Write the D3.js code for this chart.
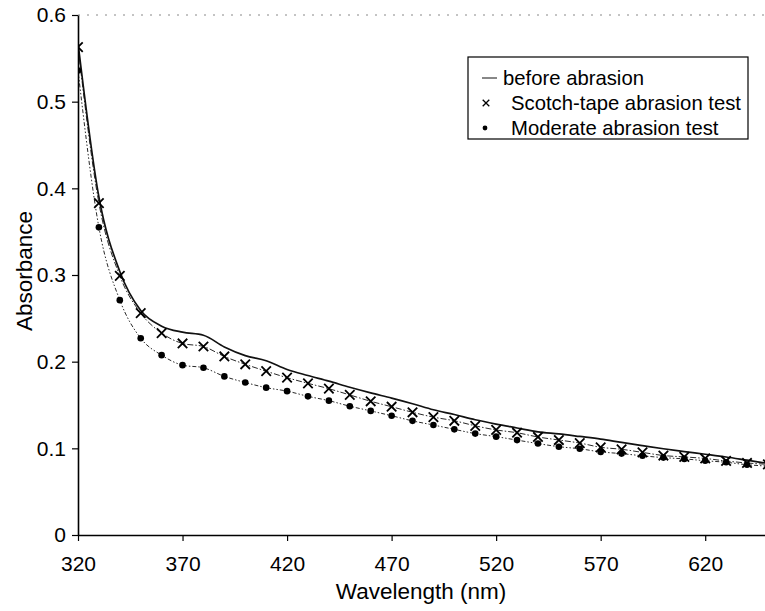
<!DOCTYPE html>
<html>
<head>
<meta charset="utf-8">
<script src="https://cdn.jsdelivr.net/npm/d3@7"></script>
<style>
  body { margin: 0; background: #fff; }
  text { font-family: "Liberation Sans", Arial, sans-serif; fill: #000; }
</style>
</head>
<body>
<div id="chart"></div>
<script>
// Absorbance spectra, one point every 10 nm
const wavelengths = [320, 330, 340, 350, 360, 370, 380, 390, 400, 410, 420, 430, 440, 450, 460, 470, 480,
    490, 500, 510, 520, 530, 540, 550, 560, 570, 580, 590, 600, 610, 620, 630, 640, 650];
const beforeAbrasion = [0.568, 0.390, 0.304, 0.259, 0.241, 0.234, 0.2305, 0.217, 0.207, 0.201, 0.191, 0.184,
    0.1775, 0.1705, 0.164, 0.158, 0.1515, 0.1445, 0.139, 0.133, 0.128, 0.1235, 0.119, 0.1166, 0.1137, 0.1107,
    0.1068, 0.1031, 0.0995, 0.0963, 0.0932, 0.090, 0.0863, 0.0826];
const scotchTape = [0.563, 0.383, 0.299, 0.256, 0.233, 0.221, 0.2175, 0.206, 0.197, 0.189, 0.1815, 0.175,
    0.1688, 0.1616, 0.1543, 0.148, 0.1416, 0.136, 0.1318, 0.126, 0.1212, 0.118, 0.1131, 0.1096, 0.1061, 0.1012,
    0.0989, 0.0953, 0.0917, 0.0901, 0.0883, 0.0854, 0.0831, 0.0815];
const moderate = [0.536, 0.355, 0.271, 0.227, 0.2075, 0.196, 0.193, 0.183, 0.176, 0.170, 0.166, 0.160,
    0.155, 0.1486, 0.1432, 0.1376, 0.1317, 0.1269, 0.1219, 0.117, 0.1135, 0.1095, 0.1055, 0.1019, 0.0995, 0.0959,
    0.0939, 0.0914, 0.0893, 0.0878, 0.0857, 0.0839, 0.0811, 0.0795];
const xTicks = [320, 370, 420, 470, 520, 570, 620];
const yTicks = [0, 0.1, 0.2, 0.3, 0.4, 0.5, 0.6];
const seriesNames = ["before abrasion", "Scotch-tape abrasion test", "Moderate abrasion test"];

const width = 765, height = 611;
const plot = { left: 78, top: 15, right: 765, bottom: 535 };

const svg = d3.select("#chart").append("svg")
    .attr("width", width)
    .attr("height", height);

// the scan cuts the plot off at the right edge, a little short of 650 nm
const x = d3.scaleLinear().domain([320, 648.6]).range([plot.left, plot.right]);
const y = d3.scaleLinear().domain([0, 0.6]).range([plot.bottom, plot.top]);

svg.append("clipPath").attr("id", "clip")
    .append("rect")
    .attr("x", plot.left).attr("y", 0)
    .attr("width", plot.right - plot.left).attr("height", height);

// faint dotted top edge of the plot area
svg.append("line")
    .attr("x1", plot.left).attr("x2", plot.right)
    .attr("y1", y(0.6)).attr("y2", y(0.6))
    .attr("stroke", "#888")
    .attr("stroke-width", 1)
    .attr("stroke-dasharray", "2,7");

const series = [
    { name: seriesNames[0], values: beforeAbrasion, dash: null, width: 1.7, marker: null },
    { name: seriesNames[1], values: scotchTape, dash: "6,2,1.5,2", width: 0.9, marker: "cross" },
    { name: seriesNames[2], values: moderate, dash: "4,2,1.5,2,1.5,2", width: 0.9, marker: "dot" }
];

const line = d3.line()
    .x((d, i) => x(wavelengths[i]))
    .y(d => y(d))
    .curve(d3.curveMonotoneX);

const g = svg.append("g").attr("clip-path", "url(#clip)");

series.forEach(s => {
    g.append("path")
        .datum(s.values)
        .attr("fill", "none")
        .attr("stroke", "#111")
        .attr("stroke-width", s.width)
        .attr("stroke-dasharray", s.dash)
        .attr("d", line);
});

const cross = d3.symbol().type(d3.symbolX).size(60);

// markers
series.forEach(s => {
    if (!s.marker) return;
    const pts = g.selectAll(null)
        .data(s.values)
        .enter();
    if (s.marker === "cross") {
        pts.append("path")
            .attr("d", cross)
            .attr("transform", (d, i) => `translate(${x(wavelengths[i])},${y(d)})`)
            .attr("fill", "none")
            .attr("stroke", "#000")
            .attr("stroke-width", 1.8);
    } else {
        pts.append("circle")
            .attr("cx", (d, i) => x(wavelengths[i]))
            .attr("cy", d => y(d))
            .attr("r", 3.3)
            .attr("fill", "#000");
    }
});

// axes
const xAxis = svg.append("g")
    .attr("transform", `translate(0,${plot.bottom})`)
    .call(d3.axisBottom(x).tickValues(xTicks).tickSize(6).tickPadding(15).tickSizeOuter(0));

const yAxis = svg.append("g")
    .attr("transform", `translate(${plot.left},0)`)
    .call(d3.axisLeft(y).tickValues(yTicks).tickSize(6).tickPadding(6).tickSizeOuter(0)
        .tickFormat(d => d === 0 ? "0" : d3.format(".1f")(d)));

[xAxis, yAxis].forEach(ax => {
    ax.select(".domain").attr("stroke", "#000").attr("stroke-width", 1.6);
    ax.selectAll(".tick line").attr("stroke", "#000").attr("stroke-width", 1.2);
    ax.selectAll(".tick text")
        .style("font-family", "'Liberation Sans', Arial, sans-serif")
        .style("font-size", "21px")
        .attr("fill", "#000");
});

svg.append("text")
    .attr("x", 421)
    .attr("y", 599)
    .attr("text-anchor", "middle")
    .style("font-size", "22.5px")
    .text("Wavelength (nm)");

svg.append("text")
    .attr("transform", `translate(32,271) rotate(-90)`)
    .attr("text-anchor", "middle")
    .style("font-size", "22.5px")
    .text("Absorbance");

// legend
const legend = svg.append("g");
legend.append("rect")
    .attr("x", 468).attr("y", 57)
    .attr("width", 280).attr("height", 82)
    .attr("fill", "#fff")
    .attr("stroke", "#000")
    .attr("stroke-width", 1.2);

const rowY = [78, 103, 128];
const textX = [503, 511, 511];
series.forEach((s, i) => {
    if (s.marker === null) {
        legend.append("line")
            .attr("x1", 482).attr("x2", 497)
            .attr("y1", rowY[i]).attr("y2", rowY[i])
            .attr("stroke", "#111").attr("stroke-width", 1);
    } else if (s.marker === "cross") {
        legend.append("path")
            .attr("d", d3.symbol().type(d3.symbolX).size(30))
            .attr("transform", `translate(486,${rowY[i]})`)
            .attr("fill", "none").attr("stroke", "#000").attr("stroke-width", 1.3);
    } else {
        legend.append("circle")
            .attr("cx", 485).attr("cy", rowY[i]).attr("r", 2.4).attr("fill", "#000");
    }
    legend.append("text")
        .attr("x", textX[i])
        .attr("y", rowY[i])
        .attr("dy", "0.35em")
        .style("font-size", "20.3px")
        .text(s.name);
});
</script>
</body>
</html>
